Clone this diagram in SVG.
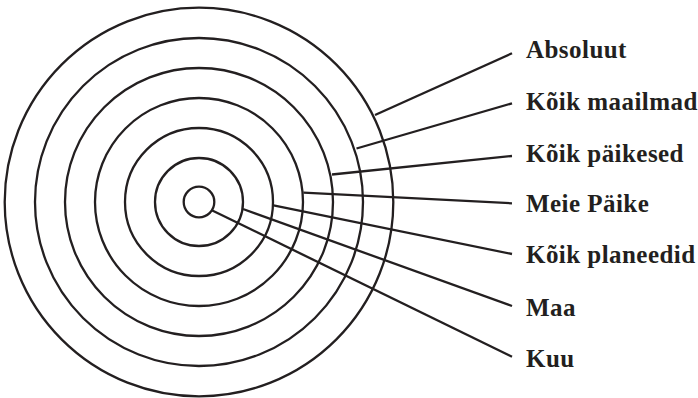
<svg xmlns="http://www.w3.org/2000/svg" width="698" height="398" viewBox="0 0 698 398">
<style>
.ring{fill:none;stroke:#231f20;stroke-width:2.3}
.ln{stroke:#231f20;stroke-width:2.3;fill:none}
.lbl{font-family:"Liberation Serif","Times New Roman",serif;font-weight:bold;font-size:25px;letter-spacing:0.45px;fill:#231f20}
</style>
<rect width="698" height="398" fill="#fff"/>
<g id="rings">
<circle id="ring-kuu" class="ring" cx="199" cy="202" r="15.3"/>
<circle id="ring-maa" class="ring" cx="199" cy="202" r="44"/>
<circle id="ring-planeedid" class="ring" cx="199" cy="202" r="74"/>
<circle id="ring-paike" class="ring" cx="199" cy="202" r="104"/>
<circle id="ring-paikesed" class="ring" cx="199" cy="202" r="134"/>
<circle id="ring-maailmad" class="ring" cx="199" cy="202" r="164"/>
<circle id="ring-absoluut" class="ring" cx="199" cy="202" r="194.3"/>
</g>
<g id="connectors">
<line class="ln" x1="375" y1="115" x2="512" y2="53.3"/>
<line class="ln" x1="356.5" y1="148.5" x2="512" y2="103.3"/>
<line class="ln" x1="332" y1="174.5" x2="512" y2="156"/>
<line class="ln" x1="303.5" y1="192.7" x2="512" y2="203.3"/>
<line class="ln" x1="273.5" y1="205.3" x2="512" y2="254"/>
<line class="ln" x1="243" y1="209" x2="512" y2="306"/>
<line class="ln" x1="212.3" y1="210.5" x2="512" y2="356.7"/>
</g>
<g id="label-absoluut"><text class="lbl" x="526" y="58.3">Absoluut</text></g>
<g id="label-maailmad"><text class="lbl" x="526" y="110">Kõik maailmad</text></g>
<g id="label-paikesed"><text class="lbl" x="526" y="161.5">Kõik päikesed</text></g>
<g id="label-paike"><text class="lbl" x="526" y="212">Meie Päike</text></g>
<g id="label-planeedid"><text class="lbl" x="526" y="263">Kõik planeedid</text></g>
<g id="label-maa"><text class="lbl" x="526" y="316">Maa</text></g>
<g id="label-kuu"><text class="lbl" x="526" y="367.3">Kuu</text></g>
</svg>
